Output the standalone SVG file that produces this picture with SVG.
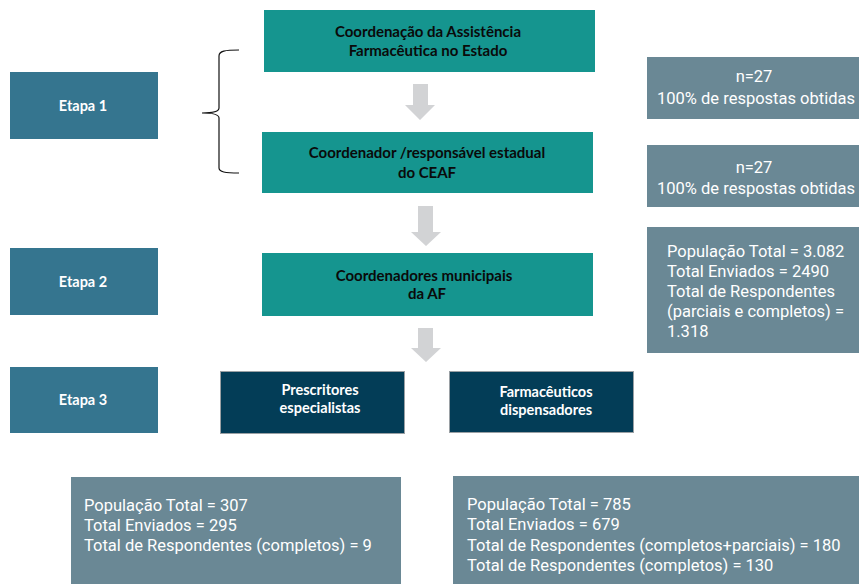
<svg xmlns="http://www.w3.org/2000/svg" width="859" height="584" viewBox="0 0 859 584">
<style>
.teal{fill:#15958f}
.etapa{fill:#35758f}
.dark{fill:#033d57;stroke:#9aa0a4;stroke-width:1}
.info{fill:#6a8895}
.arrow{fill:#d2d3d5}
.t1{font-family:Lato,"Liberation Sans",sans-serif;font-weight:bold;font-size:15px;fill:#0a0a0a;text-anchor:middle}
.tw{font-family:Lato,"Liberation Sans",sans-serif;font-weight:bold;font-size:14.5px;fill:#ffffff;text-anchor:middle}
.ti{font-family:Roboto,"Liberation Sans",sans-serif;font-size:16.5px;fill:#ffffff}
.tic{text-anchor:middle}
</style>
<g id="etapa1"><rect class="etapa" x="10" y="72" width="148" height="67"/><text class="tw" x="83" y="111">Etapa 1</text></g>
<g id="etapa2"><rect class="etapa" x="10" y="248" width="148" height="67"/><text class="tw" x="83" y="287">Etapa 2</text></g>
<g id="etapa3"><rect class="etapa" x="10" y="367" width="148" height="66"/><text class="tw" x="83" y="405">Etapa 3</text></g>
<g id="brace"><path d="M239,50 C225,50 219,51 219,56 L219,108 C219,111 214,113 202,113 C214,113 219,115 219,118 L219,168 C219,172 225,173 239,173" fill="none" stroke="#111" stroke-width="1.2"/></g>
<g id="coord-af-estado"><rect class="teal" x="264" y="10" width="331" height="62"/><text class="t1" x="428" y="37">Coordenação da Assistência</text><text class="t1" x="428" y="56">Farmacêutica no Estado</text></g>
<g id="coord-ceaf"><rect class="teal" x="262" y="132" width="331" height="61"/><text class="t1" x="427" y="158">Coordenador /responsável estadual</text><text class="t1" x="427" y="178">do CEAF</text></g>
<g id="coord-municipais"><rect class="teal" x="262" y="253" width="331" height="63"/><text class="t1" x="424" y="281">Coordenadores municipais</text><text class="t1" x="427" y="299">da AF</text></g>
<g id="prescritores"><rect class="dark" x="220.5" y="371.5" width="184" height="62"/><text class="tw" x="320" y="395">Prescritores</text><text class="tw" x="320" y="413">especialistas</text></g>
<g id="farmaceuticos"><rect class="dark" x="449.5" y="371.5" width="184" height="61"/><text class="tw" x="546" y="397">Farmacêuticos</text><text class="tw" x="546" y="415">dispensadores</text></g>
<g id="connectors">
<polygon class="arrow" points="413,84 428,84 428,105 435,105 420,120 405,105 413,105"/>
<polygon class="arrow" points="418,206 433,206 433,232 441,232 426,246 411,232 418,232"/>
<polygon class="arrow" points="418,328 433,328 433,348 441,348 426,362 411,348 418,348"/>
</g>
<g id="info1"><rect class="info" x="647" y="57" width="212" height="62"/><text class="ti tic" x="754" y="82">n=27</text><text class="ti tic" x="756" y="104">100% de respostas obtidas</text></g>
<g id="info2"><rect class="info" x="647" y="145" width="212" height="62"/><text class="ti tic" x="754" y="173">n=27</text><text class="ti tic" x="756" y="194">100% de respostas obtidas</text></g>
<g id="info3"><rect class="info" x="647" y="227" width="212" height="126"/><text class="ti" x="667" y="257">População Total = 3.082</text><text class="ti" x="667" y="277">Total Enviados = 2490</text><text class="ti" x="667" y="297">Total de Respondentes</text><text class="ti" x="667" y="317">(parciais e completos) =</text><text class="ti" x="667" y="337">1.318</text></g>
<g id="info4"><rect class="info" x="71" y="477" width="330" height="107"/><text class="ti" x="84" y="511">População Total = 307</text><text class="ti" x="84" y="531">Total Enviados = 295</text><text class="ti" x="84" y="551">Total de Respondentes (completos) = 9</text></g>
<g id="info5"><rect class="info" x="453" y="476" width="406" height="108"/><text class="ti" x="467" y="510">População Total = 785</text><text class="ti" x="467" y="530">Total Enviados = 679</text><text class="ti" x="467" y="551">Total de Respondentes (completos+parciais) = 180</text><text class="ti" x="467" y="571">Total de Respondentes (completos) = 130</text></g>
</svg>
